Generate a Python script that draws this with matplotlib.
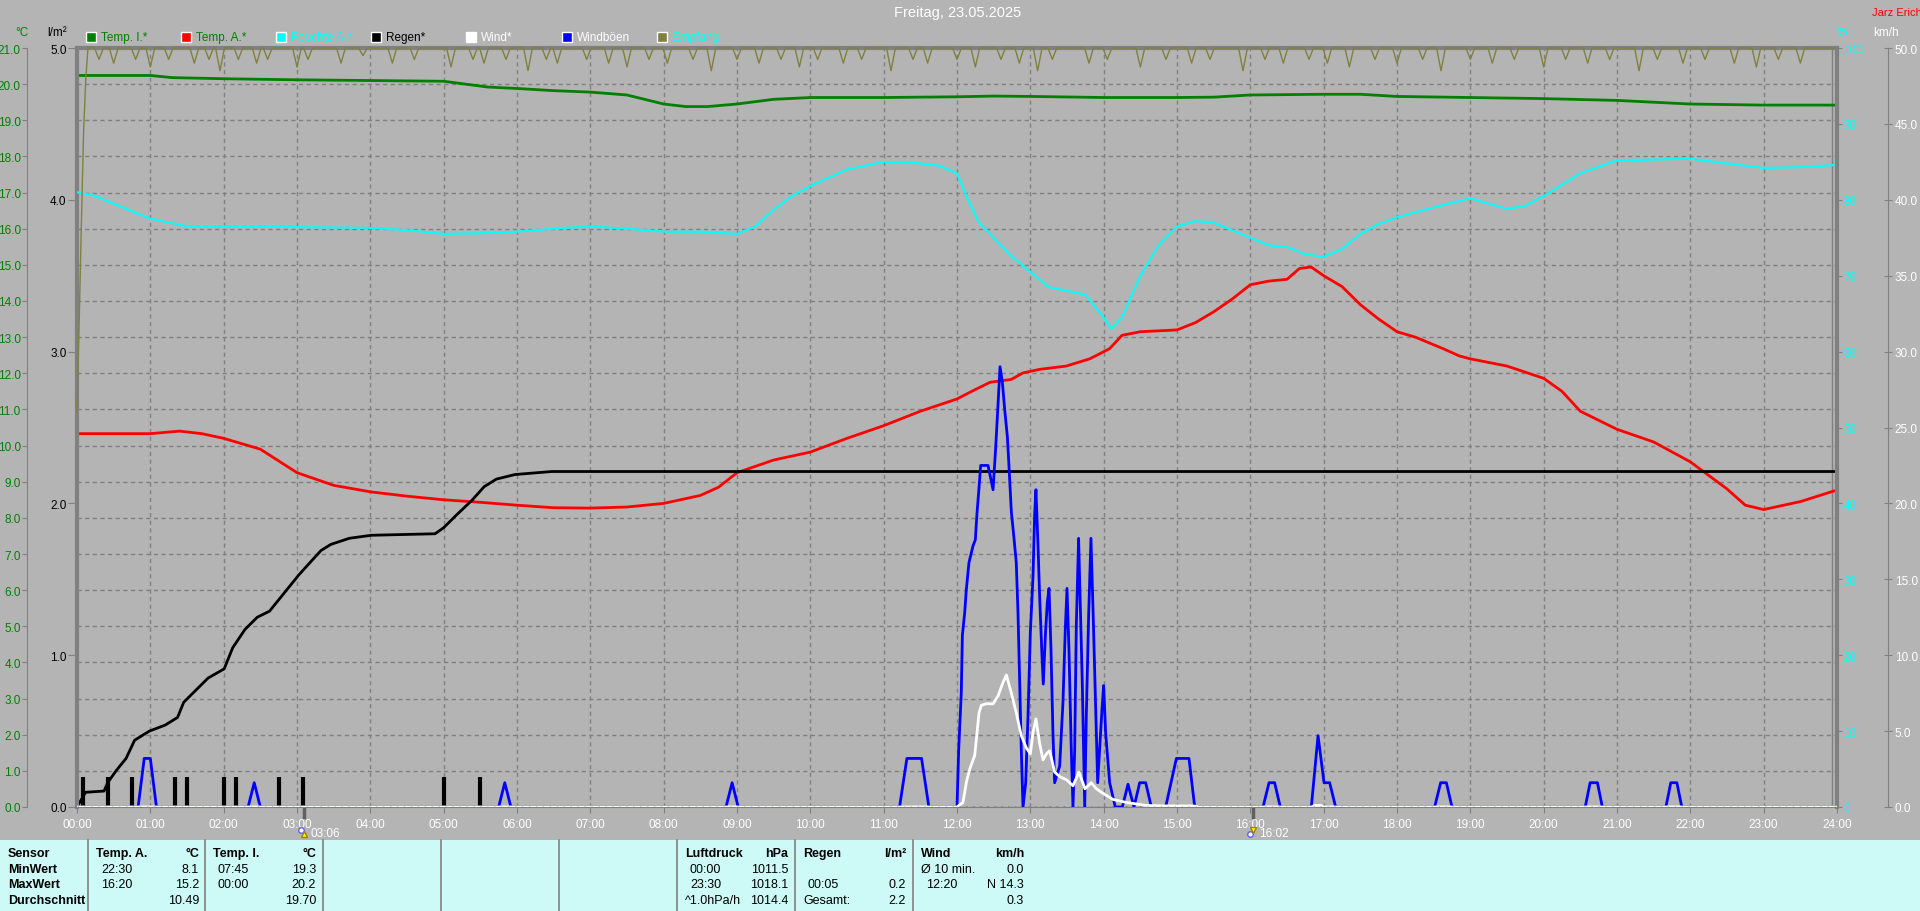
import numpy as np
import matplotlib
matplotlib.use('Agg')
import matplotlib.pyplot as plt
from matplotlib import font_manager
from matplotlib.patches import Rectangle

names = {f.name for f in font_manager.fontManager.ttflist}
fam = 'Liberation Sans Narrow' if 'Liberation Sans Narrow' in names else 'Liberation Sans'
plt.rcParams['font.family'] = [fam, 'DejaVu Sans']

BG = '#b4b4b4'
GR = '#808080'
GREEN = '#008000'
RED = '#ff0000'
CYAN = '#00ffff'
BLUE = '#0000ff'
OLIVE = '#808040'
TBL = '#cdf9f6'

# ---- data (x in hours) ----
tin_h = [0, 1.0, 1.3, 2.0, 3.0, 4.0, 5.0, 5.3, 5.6, 6.0, 6.5, 7.0, 7.5, 8.0, 8.3, 8.6, 9.0,
         9.5, 10.0, 11.0, 12.0, 12.5, 13.0, 14.0, 15.0, 15.5, 16.0, 17.0, 17.5, 18.0, 19.0,
         20.0, 21.0, 21.5, 22.0, 23.0, 24.0]
tin_c = [20.24, 20.24, 20.18, 20.15, 20.12, 20.1, 20.08, 20.0, 19.92, 19.88, 19.82, 19.78,
         19.7, 19.45, 19.38, 19.38, 19.45, 19.58, 19.63, 19.63, 19.65, 19.67, 19.66, 19.63,
         19.63, 19.64, 19.7, 19.72, 19.72, 19.66, 19.63, 19.6, 19.55, 19.5, 19.45, 19.42, 19.42]

tout_h = [0, 1.0, 1.4, 1.7, 2.0, 2.5, 3.0, 3.5, 4.0, 4.5, 5.0, 5.5, 6.0, 6.5, 7.0, 7.5, 8.0,
          8.5, 8.75, 9.0, 9.5, 10.0, 10.5, 11.0, 11.5, 12.0, 12.22, 12.45, 12.74, 12.9, 13.13,
          13.49, 13.81, 14.08, 14.25, 14.5, 15.0, 15.25, 15.5, 15.75, 16.0, 16.25, 16.5, 16.67,
          16.83, 17.0, 17.25, 17.5, 17.75, 18.0, 18.25, 18.63, 18.85, 19.0, 19.5, 20.0, 20.25,
          20.5, 21.0, 21.5, 22.0, 22.5, 22.75, 23.0, 23.5, 24.0]
tout_c = [10.33, 10.33, 10.4, 10.33, 10.2, 9.9, 9.25, 8.9, 8.72, 8.6, 8.5, 8.43, 8.35, 8.28,
          8.27, 8.3, 8.4, 8.62, 8.85, 9.25, 9.6, 9.82, 10.2, 10.55, 10.95, 11.29, 11.52, 11.75,
          11.83, 12.01, 12.11, 12.2, 12.4, 12.68, 13.05, 13.15, 13.2, 13.4, 13.7, 14.05, 14.45,
          14.55, 14.6, 14.9, 14.94, 14.7, 14.4, 13.9, 13.5, 13.15, 13.0, 12.68, 12.48, 12.4,
          12.2, 11.86, 11.5, 10.95, 10.45, 10.1, 9.55, 8.8, 8.35, 8.23, 8.45, 8.77]

hum_h = [0, 0.25, 0.5, 1.0, 1.5, 2.0, 3.0, 4.0, 4.5, 5.0, 5.5, 6.0, 6.5, 7.0, 7.5, 8.0, 8.5,
         9.0, 9.25, 9.5, 9.75, 10.0, 10.5, 11.0, 11.5, 11.75, 12.0, 12.15, 12.3, 12.5, 12.75,
         13.0, 13.25, 13.5, 13.75, 14.0, 14.1, 14.25, 14.5, 14.75, 15.0, 15.25, 15.5, 15.75,
         16.0, 16.25, 16.5, 16.75, 17.0, 17.25, 17.5, 17.75, 18.0, 18.5, 19.0, 19.5, 19.75,
         20.0, 20.5, 21.0, 21.5, 22.0, 22.5, 23.0, 23.5, 24.0]
hum_p = [81.0, 80.5, 79.5, 77.5, 76.5, 76.5, 76.4, 76.3, 76.0, 75.5, 75.6, 75.8, 76.2, 76.5,
         76.2, 75.8, 75.8, 75.5, 76.5, 78.7, 80.5, 81.8, 84.0, 85.0, 84.8, 84.5, 83.5, 80.0,
         77.0, 75.0, 72.5, 70.5, 68.5, 68.0, 67.5, 64.5, 63.0, 64.5, 70.0, 74.0, 76.5, 77.2,
         77.0, 76.0, 75.0, 74.0, 73.8, 72.8, 72.5, 73.5, 75.5, 76.8, 77.7, 79.0, 80.2, 78.8,
         79.2, 80.5, 83.5, 85.2, 85.3, 85.4, 84.8, 84.2, 84.3, 84.6]

rain_h = [0, 0.117, 0.368, 0.418, 0.535, 0.669, 0.786, 0.987, 1.204, 1.371, 1.455, 1.622,
          1.789, 2.007, 2.124, 2.291, 2.458, 2.625, 2.759, 2.876, 3.027, 3.177, 3.328, 3.462,
          3.712, 4.013, 4.883, 5.0, 5.167, 5.385, 5.552, 5.719, 5.97, 6.472, 24.0]
rain_l = [0, 0.097, 0.105, 0.16, 0.24, 0.32, 0.44, 0.5, 0.54, 0.59, 0.69, 0.77, 0.85, 0.91,
          1.05, 1.17, 1.25, 1.29, 1.37, 1.44, 1.53, 1.61, 1.69, 1.73, 1.77, 1.79, 1.80, 1.84,
          1.92, 2.02, 2.11, 2.16, 2.19, 2.21, 2.21]

bar_min = [5, 25, 45, 80, 90, 120, 130, 165, 185, 300, 330]
bar_l = [0.2, 0.2, 0.2, 0.2, 0.2, 0.2, 0.2, 0.2, 0.2, 0.2, 0.2]

gust_min = [0, 50, 55, 60, 65, 140, 145, 150, 345, 350, 355, 531, 536, 541, 673, 679, 691, 697,
            720, 721.4, 723.5, 724.4, 726.3, 727.6, 729.8, 733.1, 735, 736.4, 737.7, 739.4,
            745.4, 749.5, 751.6, 753.5, 755.2, 757.1, 759, 761.2, 762.5, 764.5, 766.4, 768.5,
            769.9, 771.3, 772.6, 774, 776.2, 778.1, 780, 782.2, 783.5, 784.6, 786.3, 787.6,
            789.3, 790.6, 792.3, 793.9, 795.3, 796.9, 798.5, 799.9, 804, 806.7, 808.6, 810,
            811.6, 813.5, 814.9, 816.3, 817.6, 819.5, 820.4, 822.5, 824.5, 825.8, 827.7, 829.6,
            831.3, 832.9, 835.1, 836.7, 838.6, 840, 841.6, 844.9, 849.5, 855.3, 859.9, 864.8,
            869.5, 874.4, 879, 890.7, 899.5, 909.8, 914.5, 970.4, 975.3, 979.9, 984.5, 1009.9,
            1015.4, 1020.3, 1024.9, 1029.8, 1110.8, 1115.7, 1120.4, 1125, 1234, 1238, 1244,
            1248, 1300, 1304, 1309, 1313, 1440]
gust_kmh = [0, 0, 3.2, 3.2, 0, 0, 1.6, 0, 0, 1.6, 0, 0, 1.6, 0, 0, 3.2, 3.2, 0,
            0, 3.8, 7.5, 11.3, 12.8, 14.3, 16.1, 17.2, 17.6, 19.4, 20.7, 22.5,
            22.5, 20.9, 23.6, 26.4, 29.0, 28.0, 26.2, 24.4, 22.5, 19.4, 17.9, 16.1,
            12.8, 8.2, 3.8, 0, 1.6, 6.0, 11.5, 15.2, 19.2, 20.9, 17.2, 13.9,
            10.4, 8.1, 11.3, 13.5, 14.4, 10.4, 4.9, 1.6, 2.7, 6.9, 11.7, 14.4,
            10.4, 3.8, 0, 3.8, 11.9, 17.7, 14.8, 8.2, 0, 6.0, 12.6, 17.7,
            13.0, 8.2, 1.6, 3.8, 6.4, 8.0, 4.9, 1.6, 0, 0, 1.5, 0,
            1.6, 1.6, 0, 0, 3.2, 3.2, 0, 0, 1.6, 1.6, 0, 0,
            4.7, 1.6, 1.6, 0, 0, 1.6, 1.6, 0, 0, 1.6, 1.6,
            0, 0, 1.6, 1.6, 0, 0]

wind_min = [0, 720, 724.9, 727.6, 730.4, 734.5, 736.4, 738, 739.9, 744, 749.5, 753.5, 757.6,
            760.4, 764.5, 768.5, 772.6, 776.7, 780, 782.2, 784.6, 787.6, 790.4, 793.1, 795.8,
            799.9, 804, 809.5, 814.9, 819.8, 824.7, 829.9, 834, 839.5, 847.6, 858.5, 874.9,
            891.3, 913.1, 918.5, 1010, 1012.6, 1018, 1019.5, 1440]
wind_kmh = [0, 0, 0.3, 1.6, 2.5, 3.4, 4.9, 6.2, 6.7, 6.8, 6.8, 7.3, 8.2, 8.7, 7.5, 6.2, 4.7,
            3.9, 3.5, 4.9, 5.8, 4.2, 3.1, 3.5, 3.7, 2.3, 2.0, 1.8, 1.4, 2.3, 1.2, 1.6, 1.2, 0.9,
            0.5, 0.3, 0.1, 0.07, 0.07, 0, 0, 0.1, 0.1, 0, 0]

emp_start_h = [0, 0.03, 0.06, 0.09, 0.12, 0.15]
emp_start_p = [52, 64, 77, 89, 96, 100]
emp_dip_h = [0.3, 0.5, 0.8, 1.0, 1.25, 1.6, 1.8, 1.95, 2.2, 2.45, 2.6, 3.0, 3.15, 3.6, 3.9, 4.3,
             4.6, 5.1, 5.4, 5.55, 5.85, 6.15, 6.4, 6.55, 6.95, 7.25, 7.5, 7.8, 8.05, 8.4, 8.65,
             9.0, 9.3, 9.6, 9.85, 10.1, 10.45, 10.7, 11.1, 11.4, 11.6, 12.0, 12.25, 12.6, 12.85,
             13.1, 13.3, 13.8, 14.05, 14.5, 14.85, 15.2, 15.45, 15.9, 16.2, 16.45, 16.8, 17.05,
             17.35, 17.7, 18.0, 18.35, 18.6, 19.0, 19.3, 19.6, 20.0, 20.3, 20.6, 20.9, 21.3,
             21.55, 21.9, 22.2, 22.6, 22.9, 23.2, 23.5, 23.8]
emp_dip_p = [98.5, 98, 98.5, 97.5, 98.5, 98, 98.5, 97, 98.5, 98, 98.5, 97.5, 98.5, 98, 99, 98,
             98.5, 97.5, 98.5, 98, 98.5, 97, 98.5, 98, 98.5, 98, 97.5, 98.5, 98, 98.5, 97,
             98.5, 98, 98.5, 97.5, 98.5, 98, 98.5, 97, 98.5, 98, 98.5, 97.5, 98.5, 98, 97,
             98.5, 98, 98.5, 97.5, 98.5, 98, 98.5, 97, 98.5, 98, 98.5, 98, 97.5, 98.5, 98,
             98.5, 97, 98.5, 98, 98.5, 97.5, 98.5, 98, 98.5, 97, 98.5, 98, 98.5, 98, 97.5,
             98.5, 98]

sun_times = ['03:06', '16:02']

legend_labels = ['Temp. I.*', 'Temp. A.*', 'Feuchte A.*', 'Regen*', 'Wind*', 'Windböen', 'Empfang']
legend_colors = [GREEN, RED, CYAN, 'black', 'white', BLUE, OLIVE]
legend_txtcol = [GREEN, GREEN, CYAN, 'black', 'white', 'white', CYAN]

row_names = ['Sensor', 'MinWert', 'MaxWert', 'Durchschnitt']
tbl_blocks = [
    (88, 'Temp. A.', '°C', [('22:30', '8.1'), ('16:20', '15.2'), ('', '10.49')]),
    (205, 'Temp. I.', '°C', [('07:45', '19.3'), ('00:00', '20.2'), ('', '19.70')]),
    (677, 'Luftdruck', 'hPa', [('00:00', '1011.5'), ('23:30', '1018.1'), ('^1.0hPa/h', '1014.4')]),
    (795, 'Regen', 'l/m²', [('', ''), ('00:05', '0.2'), ('Gesamt:', '2.2')]),
    (913, 'Wind', 'km/h', [('Ø 10 min.', '0.0'), ('12:20', 'N 14.3'), ('', '0.3')]),
]
tbl_seps = [88, 205, 323, 441, 559, 677, 795, 913]

# ---- figure ----
W, H = 1920, 912
fig = plt.figure(figsize=(19.2, 9.12), dpi=100, facecolor=BG)

ov = fig.add_axes([0, 0, 1, 1], zorder=-1)
ov.set_xlim(0, W)
ov.set_ylim(H, 0)
ov.axis('off')
ov.patch.set_visible(False)
ov.add_patch(Rectangle((0, 841), W, 71, facecolor=TBL, edgecolor='none'))
for s in tbl_seps:
    ov.plot([s, s], [841, 912], color=GR, lw=1.2)

fs_t = 9
ry = [854, 870, 885, 901]
for i, nm in enumerate(row_names):
    ov.text(8, ry[i], nm, fontsize=fs_t, fontweight='bold', va='center', ha='left')
for x0, head, unit, rows in tbl_blocks:
    ov.text(x0 + 8, ry[0], head, fontsize=fs_t, fontweight='bold', va='center', ha='left')
    ov.text(x0 + 111, ry[0], unit, fontsize=fs_t, fontweight='bold', va='center', ha='right')
    for j, (a, b) in enumerate(rows):
        off = 13 if a[:1].isdigit() else 8
        ov.text(x0 + off, ry[j + 1], a, fontsize=fs_t, va='center', ha='left')
        ov.text(x0 + 111, ry[j + 1], b, fontsize=fs_t, va='center', ha='right')

# legend row
for i, (lab, c, tc) in enumerate(zip(legend_labels, legend_colors, legend_txtcol)):
    x = 86 + i * 95.1
    ov.add_patch(Rectangle((x, 33), 10, 10, facecolor=c, edgecolor='white', lw=1))
    ov.text(x + 15, 38, lab, color=tc, fontsize=8.5, va='center', ha='left')

ov.text(958, 13, 'Freitag, 23.05.2025', color='white', fontsize=10.5, ha='center', va='center')
ov.text(1897, 13, 'Jarz Erich', color=RED, fontsize=8, ha='center', va='center')
ov.text(22, 33, '°C', color=GREEN, fontsize=8.5, ha='center', va='center')
ov.text(57, 33, 'l/m²', color='black', fontsize=8.5, ha='center', va='center')
ov.text(1842, 33, '%', color=CYAN, fontsize=8.5, ha='center', va='center')
ov.text(1886, 33, 'km/h', color='white', fontsize=8.5, ha='center', va='center')

# main axes
ax = fig.add_axes([77 / W, (H - 808) / H, 1760 / W, 759 / H], zorder=1)
ax.set_facecolor('none')
ax.set_xlim(0, 24)
ax.set_ylim(0, 21)
dash = (0, (3, 2.5))
ax.set_xticks(np.arange(0, 25))
ax.set_xticklabels(['%02d:00' % h for h in range(25)])
ax.set_yticks(np.arange(0, 22))
ax.set_yticklabels(['%.1f' % v for v in range(22)])
ax.grid(True, ls=dash, color=GR, lw=1)
ax.tick_params(axis='x', colors=GR, labelcolor='white', length=4, pad=4, labelsize=8.5)
ax.tick_params(axis='y', colors=GR, labelcolor=GREEN, length=3.5, pad=1, labelsize=8.5)
ax.spines['left'].set_position(('outward', 36))
ax.spines['left'].set_color(GR)
ax.spines['right'].set_visible(False)
ax.spines['top'].set_color(GR)
ax.spines['top'].set_linewidth(3)
ax.spines['bottom'].set_color(GR)
ax.plot([1 - 5 / 1760] * 2, [0, 1], transform=ax.transAxes, color=GR, lw=1)

ax.plot(tin_h, tin_c, color=GREEN, lw=2)
ax.plot(tout_h, tout_c, color=RED, lw=2)

# rain axis
ax_r = ax.twinx()
ax_r.set_ylim(0, 5)
ax_r.yaxis.tick_left()
ax_r.set_yticks(np.arange(0, 6))
ax_r.set_yticklabels(['%.1f' % v for v in range(6)])
ax_r.tick_params(axis='y', colors=GR, labelcolor='black', length=6.5, pad=1, labelsize=8.5)
for k in ['right', 'top', 'bottom']:
    ax_r.spines[k].set_visible(False)
ax_r.spines['left'].set_color(GR)
ax_r.spines['left'].set_linewidth(3)
ax_r.vlines(np.array(bar_min) / 60, 0, bar_l, color='black', lw=3)
ax_r.plot(rain_h, rain_l, color='black', lw=2)

# humidity axis
ax_h = ax.twinx()
ax_h.set_ylim(0, 100)
ax_h.set_yticks(np.arange(0, 101, 10))
ax_h.set_yticklabels(['%d' % v for v in range(0, 101, 10)])
ax_h.tick_params(axis='y', colors=GR, labelcolor=CYAN, length=3.5, pad=1, labelsize=8.5)
for k in ['left', 'top', 'bottom']:
    ax_h.spines[k].set_visible(False)
ax_h.spines['right'].set_color(GR)
ax_h.spines['right'].set_linewidth(3)
ax_h.plot(hum_h, hum_p, color=CYAN, lw=1.5)

emp_x = list(emp_start_h)
emp_y = list(emp_start_p)
for t, p in zip(emp_dip_h, emp_dip_p):
    emp_x += [t - 0.06, t, t + 0.06]
    emp_y += [100, p, 100]
emp_x.append(24)
emp_y.append(100)
ax_h.plot(emp_x, emp_y, color=OLIVE, lw=1, clip_on=False)

# wind axis
ax_w = ax.twinx()
ax_w.set_ylim(0, 50)
ax_w.set_yticks(np.arange(0, 51, 5))
ax_w.set_yticklabels(['%.1f' % v for v in range(0, 51, 5)])
ax_w.tick_params(axis='y', colors=GR, labelcolor='white', length=6, pad=1.5,
                 labelsize=8.5, direction='inout')
for k in ['left', 'top', 'bottom']:
    ax_w.spines[k].set_visible(False)
ax_w.spines['right'].set_position(('outward', 37))
ax_w.spines['right'].set_color(GR)
ax_w.plot(np.array(gust_min) / 60, gust_kmh, color=BLUE, lw=2)
ax_w.plot(np.array(wind_min) / 60, wind_kmh, color='white', lw=2)
ax_w.plot([0, 24], [0, 0], color='black', lw=1, ls=(0, (1, 4)))

# sunrise / sunset marks
xt = ax.get_xaxis_transform()
for i, s in enumerate(sun_times):
    t = int(s[:2]) + int(s[3:]) / 60
    ax.plot([t, t], [0, -0.013], transform=xt, color='#606060', lw=2.5, clip_on=False)
    ax.plot(t - 0.04, -0.03 if i == 0 else -0.036, transform=xt, marker='o', ms=4,
            mfc='white', mec='#6060ff', clip_on=False)
    ax.plot(t, -0.036 if i == 0 else -0.03, transform=xt, marker='^' if i == 0 else 'v', ms=5,
            color='#ffff00', mec='#a08000', clip_on=False)
    ax.text(t + 0.08, -0.034, s, transform=xt, color='white', fontsize=8.5,
            ha='left', va='center', clip_on=False)

fig.savefig('out.png', dpi=100, facecolor=BG)
